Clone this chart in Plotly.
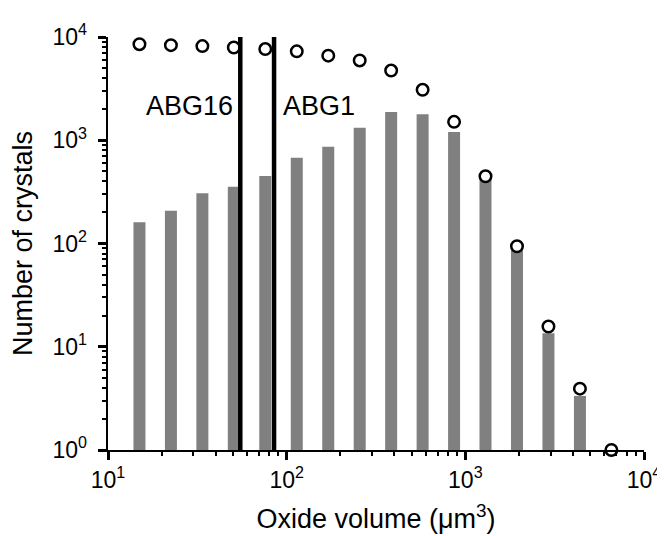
import numpy as np
import plotly.graph_objects as go

# Bin centers (oxide volume, µm^3) – geometric bins, ratio 1.5
bin_centers = [15, 22.5, 33.75, 50.6, 75.9, 113.9, 170.9, 256.3, 384.4,
               576.7, 865, 1297, 1946, 2919, 4379]
bar_counts = [161, 208, 306, 355, 451, 678, 867, 1322, 1875,
              1782, 1204, 416, 86, 13.5, 3.34]

circle_x = [15, 22.5, 33.75, 50.6, 75.9, 113.9, 170.9, 256.3, 384.4,
            576.7, 865, 1297, 1946, 2919, 4379, 6568]
circle_y = [8520, 8340, 8160, 7920, 7640, 7260, 6600, 5930, 4730,
            3080, 1507, 448, 94, 15.7, 3.93, 1]

line_names = ["ABG16", "ABG1"]
line_x = [55, 85]

x_tickvals = [10, 100, 1000, 10000]
x_ticktext = ["10<sup>1</sup>", "10<sup>2</sup>", "10<sup>3</sup>", "10<sup>4</sup>"]
y_tickvals = [1, 10, 100, 1000, 10000]
y_ticktext = ["10<sup>0</sup>\u00a0", "10<sup>1</sup>\u00a0", "10<sup>2</sup>\u00a0",
              "10<sup>3</sup>\u00a0", "10<sup>4</sup>\u00a0"]
minor_mult = [2, 3, 4, 5, 6, 7, 8, 9]
x_minor = [m * d for d in [10, 100, 1000] for m in minor_mult]
y_minor = [m * d for d in [1, 10, 100, 1000] for m in minor_mult]

FONT = "Liberation Sans, Arial, sans-serif"

fig = go.Figure()

# Invisible trace to register the minor-tick overlay axes
fig.add_trace(go.Scatter(x=[10, 10000], y=[1, 10000], mode="markers",
                         marker=dict(opacity=0), xaxis="x2", yaxis="y2",
                         hoverinfo="skip", showlegend=False))

# Bars as thick vertical segments from the axis floor (y=1)
bx, by = [], []
for xc, v in zip(bin_centers, bar_counts):
    bx += [xc, xc, None]
    by += [1, v, None]
fig.add_trace(go.Scatter(x=bx, y=by, mode="lines",
                         line=dict(color="#808080", width=12),
                         hoverinfo="skip", showlegend=False))

# Open circles
fig.add_trace(go.Scatter(x=circle_x, y=circle_y, mode="markers",
                         marker=dict(symbol="circle", size=11.5, color="white",
                                     line=dict(color="black", width=2.5)),
                         cliponaxis=False, showlegend=False))

# Vertical reference lines
for lx in line_x:
    fig.add_trace(go.Scatter(x=[lx, lx], y=[1, 10000], mode="lines",
                             line=dict(color="black", width=4.5),
                             hoverinfo="skip", showlegend=False))

# Labels for the reference lines (annotations on log axes use log10 coords)
fig.add_annotation(x=np.log10(line_x[0]), y=3.336, xref="x", yref="y",
                   text=line_names[0], showarrow=False, xanchor="right",
                   yanchor="middle", xshift=-5,
                   font=dict(family=FONT, size=27, color="black"))
fig.add_annotation(x=np.log10(line_x[1]), y=3.336, xref="x", yref="y",
                   text=line_names[1], showarrow=False, xanchor="left",
                   yanchor="middle", xshift=7,
                   font=dict(family=FONT, size=27, color="black"))

axis_common = dict(
    showgrid=False, zeroline=False, showline=True, linecolor="black", linewidth=2,
    ticks="outside", ticklen=8, tickwidth=2.5, tickcolor="#000000",
    tickfont=dict(family=FONT, size=23, color="black"),
)
minor_common = dict(
    type="log", showgrid=False, zeroline=False, showline=False,
    ticks="outside", ticklen=5, tickwidth=2, tickcolor="#000000",
    showticklabels=False,
)

fig.update_layout(
    xaxis=dict(type="log", range=[1, 4], tickvals=x_tickvals, ticktext=x_ticktext,
               ticklabeloverflow="allow",
               title=dict(text="Oxide volume (\u03bcm<sup>3</sup>)",
                          font=dict(family=FONT, size=27, color="black"),
                          standoff=18),
               **axis_common),
    yaxis=dict(type="log", range=[0, 4], tickvals=y_tickvals, ticktext=y_ticktext,
               title=dict(text="Number of crystals",
                          font=dict(family=FONT, size=27, color="black"),
                          standoff=14),
               **axis_common),
    xaxis2=dict(overlaying="x", anchor="y", side="bottom", range=[1, 4],
                tickvals=x_minor, **minor_common),
    yaxis2=dict(overlaying="y", anchor="x", side="left", range=[0, 4],
                tickvals=y_minor, **minor_common),
    width=665, height=536,
    margin=dict(l=98, r=13, t=20, b=94),
    plot_bgcolor="white", paper_bgcolor="white",
    showlegend=False,
    font=dict(family=FONT, color="black"),
)

fig.write_html("out.html")
